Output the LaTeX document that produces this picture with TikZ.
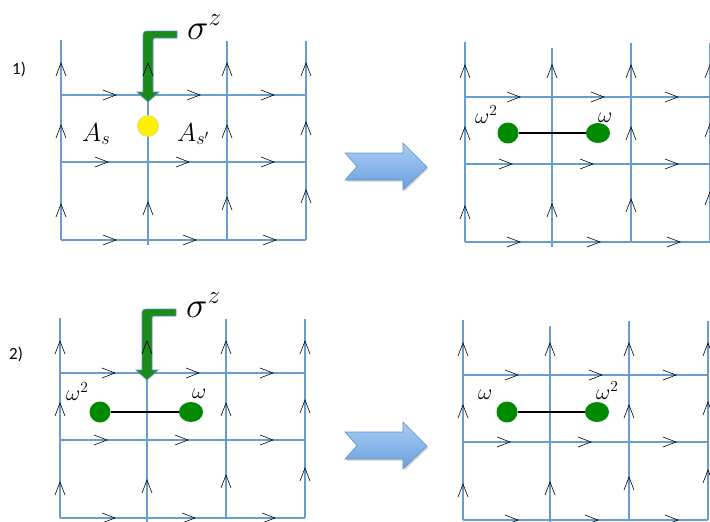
\RequirePackage{fix-cm}
\documentclass[tikz,border=0pt]{standalone}
\usepackage{fontspec}
\newfontfamily\panelfont{Carlito}
\usetikzlibrary{shapes.geometric,shadows}
\definecolor{latblue}{HTML}{6A9CD2}
\definecolor{dotgreen}{HTML}{008A00}
\definecolor{argreen}{HTML}{1A8A1A}
\definecolor{aredge}{HTML}{5E92CA}
\definecolor{sitefill}{HTML}{FFF000}
\definecolor{sitedge}{HTML}{D8D080}
\definecolor{bigtop}{HTML}{A9CDF4}
\definecolor{bigbot}{HTML}{6AA0DE}
\definecolor{bigedge}{HTML}{5F93CC}

\begin{document}
\begin{tikzpicture}[
  x=1pt, y=-1pt,
  edge/.style={latblue, line width=2.9pt},
  chev/.style={black, line width=0.6pt},
  opflip/.style={fill=argreen, draw=aredge, line width=0.7pt},
  bigarrow/.style={draw=bigedge, line width=0.6pt, top color=bigtop, bottom color=bigbot,
    drop shadow={opacity=0.35, shadow xshift=1.5pt, shadow yshift=-1.5pt}},
  gdot/.style={circle, fill=dotgreen, minimum size=21pt, inner sep=0pt},
  gdotwide/.style={ellipse, fill=dotgreen, minimum width=24pt, minimum height=20pt, inner sep=0pt},
  ysite/.style={circle, fill=sitefill, draw=sitedge, line width=0.5pt, minimum size=21pt, inner sep=0pt},
  bond/.style={black, line width=1.2pt},
  sig/.style={font=\fontsize{36}{40}\selectfont, inner sep=0pt, anchor=base west},
  plaq/.style={font=\fontsize{26}{30}\selectfont, inner sep=0pt, anchor=base west},
  phase/.style={font=\fontsize{22}{25}\selectfont, inner sep=0pt, anchor=base west},
  panel/.style={font=\panelfont\fontsize{17}{19}\selectfont, inner sep=0pt, anchor=base west},
]
\useasboundingbox (0,0) rectangle (710,522);

% ---------- lattice lines (four panels) ----------
\foreach \dx/\dy in {0/0, 404/2, -1/278, 402/280}
{
  \begin{scope}[shift={(\dx,\dy)}]
    \foreach \x/\top/\bot in {61/40/240, 148/46/245, 227/41/240, 306/41/240}
      \draw[edge] (\x,\top) -- (\x,\bot);
    \foreach \y in {95, 162, 240}
      \draw[edge] (61,\y) -- (306,\y);
  \end{scope}
}

% ---------- sigma^z operator (left panels) ----------
\foreach \dx/\dy in {0/0, -1/278}
{
  \begin{scope}[shift={(\dx,\dy)}]
    \path[opflip] (177,31) -- (151,31) .. controls (143,31) .. (143,39) -- (143,92)
      -- (137,92) -- (148,102) -- (159,92) -- (153,92) -- (153,41)
      .. controls (153,38) .. (156,38) -- (177,38) -- cycle;
  \end{scope}
}
\node[sig] (sz1) at (187,39) {$\sigma^z$};
\node[sig] (sz2) at (186,317) {$\sigma^z$};

% ---------- link orientations ----------
\foreach \dx/\dy in {0/0, 404/2, -1/278, 402/280}
{
  \begin{scope}[shift={(\dx,\dy)}]
    % rightward marks on rows
    \foreach \x/\y in {116/95, 200/95, 274/95, 108/162, 189/162, 274/162,
                       116/240, 196/240, 276/240}
      \draw[chev] (\x-13,\y-5) -- (\x,\y) -- (\x-13,\y+5);
    % upward marks on columns
    \foreach \x/\y in {61/63, 61/125, 61/204, 148/63, 148/202, 227/63,
                       227/125, 227/197, 306/63, 306/122, 306/190}
      \draw[chev] (\x-5,\y+13) -- (\x,\y) -- (\x+5,\y+13);
  \end{scope}
}

% ---------- transition arrows ----------
\foreach \dy in {0, 279}
  \path[bigarrow] (345,153+\dy) -- (403,153+\dy) -- (403,143+\dy) -- (427,167+\dy)
    -- (403,190+\dy) -- (403,180+\dy) -- (345,180+\dy) -- (357,166.5+\dy) -- cycle;

% ---------- panel 1 ----------
\node[panel] (p1) at (12,74) {1)};
\node[ysite] (site) at (148,126) {};
\node[plaq] (as) at (82,141) {$A_s$};
\node[plaq] (asp) at (177,141) {$A_{s'}$};

% ---------- panel 1, after ----------
\node[gdot] (l1) at (508,133) {};
\node[gdotwide] (r1) at (598,133) {};
\draw[bond] (l1) -- (r1);
\node[phase] (l1w) at (475,123) {$\omega^2$};
\node[phase] (r1w) at (598,122) {$\omega$};

% ---------- panel 2 ----------
\node[panel] (p2) at (9,359) {2)};
\node[gdot] (l2) at (100,412) {};
\node[gdotwide] (r2) at (191,412) {};
\draw[bond] (l2) -- (r2);
\node[phase] (l2w) at (66,400) {$\omega^2$};
\node[phase] (r2w) at (192,398) {$\omega$};

% ---------- panel 2, after ----------
\node[gdot] (l3) at (507,412) {};
\node[gdotwide] (r3) at (597,412) {};
\draw[bond] (l3) -- (r3);
\node[phase] (l3w) at (478,399) {$\omega$};
\node[phase] (r3w) at (596,399) {$\omega^2$};

\end{tikzpicture}
\end{document}
